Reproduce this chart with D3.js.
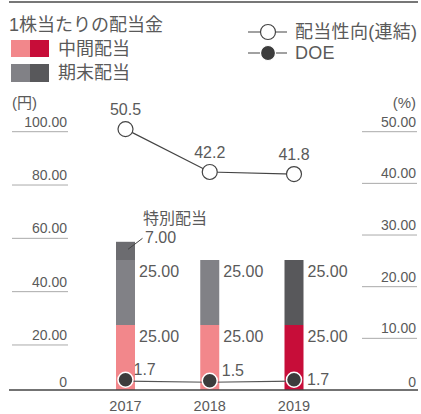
<!DOCTYPE html>
<html>
<head>
<meta charset="utf-8">
<script src="https://cdn.jsdelivr.net/npm/d3@7"></script>
<style>
  body { margin: 0; background: #fff; }
  svg { display: block; font-family: "Liberation Sans", "Noto Sans CJK JP", sans-serif; }
  text { fill: #5a5a5a; }
</style>
</head>
<body>
<svg id="chart"></svg>
<script>
// data
var years = ["2017", "2018", "2019"];
var interim = [25, 25, 25];          // 中間配当
var yearEnd = [25, 25, 25];          // 期末配当
var special = [7, 0, 0];             // 特別配当
var payoutRatio = [50.5, 42.2, 41.8]; // 配当性向(連結) %
var doe = [1.7, 1.5, 1.7];           // DOE %
var leftTicks = [0, 20, 40, 60, 80, 100];
var rightTicks = [0, 10, 20, 30, 40, 50];

var width = 421, height = 414;
var baseY = 390;

var svg = d3.select("#chart").attr("width", width).attr("height", height);

var x = d3.scalePoint().domain(years).range([125.5, 294]);
var yBar = d3.scaleLinear().domain([0, 100]).range([baseY, 130]);
var yLeftTick = d3.scaleLinear().domain([0, 100]).range([398.3, 131.7]);
var yRight = d3.scaleLinear().domain([0, 50]).range([baseY, 131.7]);
var barW = 19;

// colours: last year highlighted
var pink = "#f2878b", red = "#c70d39", gray = "#818186", dark = "#58585b", spec = "#6c6c70";

// top rule
svg.append("line").attr("x1", 9).attr("x2", 418).attr("y1", 2).attr("y2", 2)
    .attr("stroke", "#4a4a4a").attr("stroke-width", 1.5);

// legend
svg.append("text").attr("x", 9).attr("y", 25).attr("dy", "0.35em")
    .style("font-size", "18px").text("1株当たりの配当金");
var sw = [[pink, red, 40, 17, "中間配当", 49], [gray, dark, 64, 18, "期末配当", 73]];
sw.forEach(function(s) {
    svg.append("rect").attr("x", 11).attr("y", s[2]).attr("width", 19).attr("height", s[3]).attr("fill", s[0]);
    svg.append("rect").attr("x", 30).attr("y", s[2]).attr("width", 19).attr("height", s[3]).attr("fill", s[1]);
    svg.append("text").attr("x", 58).attr("y", s[5]).attr("dy", "0.35em")
        .style("font-size", "18px").text(s[4]);
});
[["配当性向(連結)", 32, "#fff"], ["DOE", 53, "#3c3c3c"]].forEach(function(l) {
    svg.append("line").attr("x1", 248).attr("x2", 287).attr("y1", l[1]).attr("y2", l[1])
        .attr("stroke", "#444").attr("stroke-width", 1.2);
    svg.append("circle").attr("cx", 268).attr("cy", l[1]).attr("r", 7.5)
        .attr("fill", l[2]).attr("stroke", l[2] === "#fff" ? "#444" : "#fff").attr("stroke-width", 1.2);
    svg.append("text").attr("x", 295).attr("y", l[1]).attr("dy", "0.35em")
        .style("font-size", "18px").style("letter-spacing", "0.3px").text(l[0]);
});

// units
svg.append("text").attr("x", 12).attr("y", 103).attr("dy", "0.35em").style("font-size", "15px").text("(円)");
svg.append("text").attr("x", 416).attr("y", 103).attr("dy", "0.35em").attr("text-anchor", "end")
    .style("font-size", "15px").text("(%)");

// left axis ticks
var lt = svg.append("g");
leftTicks.forEach(function(v) {
    if (v > 0) {
        lt.append("line").attr("x1", 12).attr("x2", 68).attr("y1", yLeftTick(v)).attr("y2", yLeftTick(v))
            .attr("stroke", "#aaa").attr("stroke-width", 1);
    }
    lt.append("text").attr("x", 67).attr("y", v > 0 ? yLeftTick(v) - 5 : baseY - 3)
        .attr("text-anchor", "end").style("font-size", "14px")
        .text(v > 0 ? d3.format(".2f")(v) : "0");
});
// right axis ticks
var rt = svg.append("g");
rightTicks.forEach(function(v) {
    if (v > 0) {
        rt.append("line").attr("x1", 362).attr("x2", 417).attr("y1", yRight(v)).attr("y2", yRight(v))
            .attr("stroke", "#aaa").attr("stroke-width", 1);
    }
    rt.append("text").attr("x", 416).attr("y", v > 0 ? yRight(v) - 5 : baseY - 3)
        .attr("text-anchor", "end").style("font-size", "14px")
        .text(v > 0 ? d3.format(".2f")(v) : "0");
});

// stacked bars
var stacks = years.map(function(yr, i) {
    var last = i === years.length - 1;
    return [
        {yr: yr, y0: 0, y1: interim[i], c: last ? red : pink, v: interim[i]},
        {yr: yr, y0: interim[i], y1: interim[i] + yearEnd[i], c: last ? dark : gray, v: yearEnd[i]},
        {yr: yr, y0: interim[i] + yearEnd[i], y1: interim[i] + yearEnd[i] + special[i], c: spec, v: special[i], sp: true}
    ];
});
var segs = [].concat.apply([], stacks).filter(function(d) { return d.v > 0; });
svg.append("g").selectAll("rect").data(segs).enter().append("rect")
    .attr("x", function(d) { return x(d.yr) - barW / 2; })
    .attr("y", function(d) { return yBar(d.y1); })
    .attr("width", barW)
    .attr("height", function(d) { return yBar(d.y0) - yBar(d.y1); })
    .attr("fill", function(d) { return d.c; });

svg.append("g").selectAll("text").data(segs.filter(function(d) { return !d.sp; })).enter().append("text")
    .attr("x", function(d) { return x(d.yr) + 13.5; })
    .attr("y", function(d) { return yBar(d.y1) + 11; })
    .attr("dy", "0.35em")
    .style("font-size", "16px")
    .text(function(d) { return d3.format(".2f")(d.v); });

// special dividend label
segs.filter(function(d) { return d.sp; }).forEach(function(d) {
    var cx = x(d.yr);
    svg.append("line").attr("x1", cx + 2.5).attr("y1", yBar(d.y1) + 7.5)
        .attr("x2", cx + 17).attr("y2", yBar(d.y1) - 3.5)
        .attr("stroke", "#444").attr("stroke-width", 1);
    svg.append("text").attr("x", cx + 19.5).attr("y", yBar(d.y1) - 4).attr("dy", "0.35em")
        .style("font-size", "16px").text(d3.format(".2f")(d.v));
    svg.append("text").attr("x", cx + 17.5).attr("y", yBar(d.y1) - 23).attr("dy", "0.35em")
        .style("font-size", "16px").text("特別配当");
});

// baseline
svg.append("line").attr("x1", 9).attr("x2", 418).attr("y1", baseY).attr("y2", baseY)
    .attr("stroke", "#444").attr("stroke-width", 1.5);

// x labels
svg.append("g").selectAll("text").data(years).enter().append("text")
    .attr("x", function(d) { return x(d); }).attr("y", 405.5).attr("dy", "0.35em")
    .attr("text-anchor", "middle").style("font-size", "14.5px")
    .text(function(d) { return d; });

// payout ratio line
var line = d3.line().x(function(d, i) { return x(years[i]); }).y(function(d) { return yRight(d); });
svg.append("path").attr("d", line(payoutRatio)).attr("fill", "none").attr("stroke", "#444").attr("stroke-width", 1.2);
svg.append("g").selectAll("circle").data(payoutRatio).enter().append("circle")
    .attr("cx", function(d, i) { return x(years[i]); }).attr("cy", function(d) { return yRight(d); })
    .attr("r", 7.5).attr("fill", "#fff").attr("stroke", "#444").attr("stroke-width", 1.2);
svg.append("g").selectAll("text").data(payoutRatio).enter().append("text")
    .attr("x", function(d, i) { return x(years[i]); }).attr("y", function(d) { return yRight(d) - 19.5; })
    .attr("dy", "0.35em").attr("text-anchor", "middle").style("font-size", "16px")
    .text(function(d) { return d3.format(".1f")(d); });

// DOE line
svg.append("path").attr("d", line(doe)).attr("fill", "none").attr("stroke", "#555").attr("stroke-width", 1.2);
svg.append("g").selectAll("circle").data(doe).enter().append("circle")
    .attr("cx", function(d, i) { return x(years[i]); }).attr("cy", function(d) { return yRight(d) - 1.5; })
    .attr("r", 7.5).attr("fill", "#3c3c3c").attr("stroke", "#fff").attr("stroke-width", 1.5);
var doeLabelOff = [[8, -10], [12, -10], [13, 0]];
svg.append("g").selectAll("text").data(doe).enter().append("text")
    .attr("x", function(d, i) { return x(years[i]) + doeLabelOff[i][0]; })
    .attr("y", function(d, i) { return yRight(d) - 1.5 + doeLabelOff[i][1]; })
    .attr("dy", "0.35em").style("font-size", "16px")
    .text(function(d) { return d3.format(".1f")(d); });
</script>
</body>
</html>
